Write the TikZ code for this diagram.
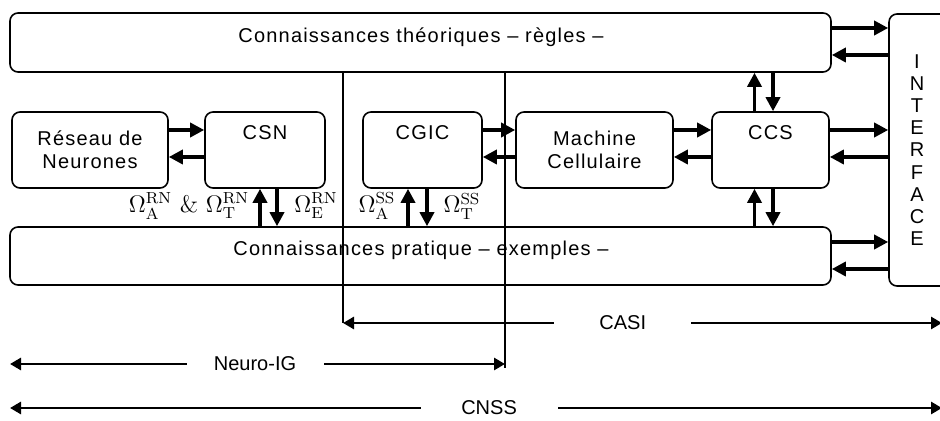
\documentclass[tikz,border=0pt]{standalone}
\usepackage{amsmath}
\usepackage{fontspec}
\usepackage{tikz}
\usetikzlibrary{arrows.meta, positioning, calc}
\newfontfamily\boxfont[LetterSpace=6]{Liberation Sans}
\newfontfamily\spanfont{Liberation Sans}
\tikzset{
  panel/.style={draw, line width=0.8pt, rounded corners=4pt, fill=white, inner sep=0pt},
  boxtxt/.style={font=\boxfont\fontsize{10}{11.5}\selectfont, align=center, inner sep=0pt},
  flow/.style={line width=1.7pt, -{Triangle[length=7pt, width=7pt]}},
  span/.style={line width=1.4pt, {Triangle[length=5.5pt, width=6pt]}-{Triangle[length=5.5pt, width=6pt]}},
  gap/.style={font=\spanfont\fontsize{10}{12}\selectfont, fill=white, inner sep=0pt, minimum height=8pt, minimum width=68.5pt},
  sep/.style={line width=0.6pt},
  omega/.style={font=\fontsize{12}{14}\selectfont, inner sep=0pt}
}
\begin{document}
\begin{tikzpicture}[x=0.5pt, y=-0.5pt]
  \clip (0,0) rectangle (940,421);
  % couches de connaissances
  \node[panel, minimum width=410.5pt, minimum height=29.5pt] (theo) at (420.5,42.5) {};
  \node[boxtxt] (theot) at (421,37) {Connaissances théoriques – règles –};
  \node[panel, minimum width=410.5pt, minimum height=29pt] (prat) at (420.5,256) {};
  \node[boxtxt] (pratt) at (421,250) {Connaissances pratique – exemples –};
  \node[panel, minimum width=40.5pt, minimum height=136pt] (iface) at (929.5,150) {};
  \node[boxtxt, font=\boxfont\fontsize{10}{11.1}\selectfont] (ifacet) at (917,150) {I\\N\\T\\E\\R\\F\\A\\C\\E};
  % modules
  \node[panel, boxtxt, minimum width=78pt, minimum height=38pt] (reseau) at (90,150) {Réseau de\\Neurones};
  \node[panel, minimum width=60pt, minimum height=38pt] (csn) at (265,150) {};
  \node[boxtxt] (csnt) at (265,133) {CSN};
  \node[panel, minimum width=59.5pt, minimum height=38pt] (cgic) at (422.5,150) {};
  \node[boxtxt] (cgict) at (422.5,133) {CGIC};
  \node[panel, boxtxt, minimum width=78.5pt, minimum height=38pt] (machine) at (594.5,150) {Machine\\Cellulaire};
  \node[panel, minimum width=58.5pt, minimum height=38pt] (ccs) at (770.5,150) {};
  \node[boxtxt] (ccst) at (770.5,133) {CCS};
  % echanges horizontaux
  \draw[flow] ([yshift=10pt]reseau.east) -- ([yshift=10pt]csn.west);
  \draw[flow] ([yshift=-3.5pt]csn.west) -- ([yshift=-3.5pt]reseau.east);
  \draw[flow] ([yshift=10pt]cgic.east) -- ([yshift=10pt]machine.west);
  \draw[flow] ([yshift=-3.5pt]machine.west) -- ([yshift=-3.5pt]cgic.east);
  \draw[flow] ([yshift=10pt]machine.east) -- ([yshift=10pt]ccs.west);
  \draw[flow] ([yshift=-3.5pt]ccs.west) -- ([yshift=-3.5pt]machine.east);
  \draw[flow] ([yshift=10pt]ccs.east) -- ([yshift=10pt]iface.west);
  \draw[flow] ([yshift=-3.5pt]iface.west) -- ([yshift=-3.5pt]ccs.east);
  \draw[flow] ([yshift=7.25pt]theo.east) -- ([yshift=61pt]iface.west);
  \draw[flow] ([yshift=47.5pt]iface.west) -- ([yshift=-6.25pt]theo.east);
  \draw[flow] ([yshift=7pt]prat.east) -- ([yshift=-46pt]iface.west);
  \draw[flow] ([yshift=-59.5pt]iface.west) -- ([yshift=-6.5pt]prat.east);
  % echanges verticaux
  \draw[flow] ([xshift=-8pt]ccs.north) -- ($(ccs.north |- theo.south)+(-8pt,0pt)$);
  \draw[flow] ($(ccs.north |- theo.south)+(1.25pt,0pt)$) -- ([xshift=1.25pt]ccs.north);
  \draw[flow] ($(ccs.south |- prat.north)+(-8pt,0pt)$) -- ([xshift=-8pt]ccs.south);
  \draw[flow] ([xshift=1.25pt]ccs.south) -- ($(ccs.south |- prat.north)+(1.25pt,0pt)$);
  \draw[flow] ($(csn.south |- prat.north)+(-2.5pt,0pt)$) -- ([xshift=-2.5pt]csn.south);
  \draw[flow] ([xshift=6pt]csn.south) -- ($(csn.south |- prat.north)+(6pt,0pt)$);
  \draw[flow] ($(cgic.south |- prat.north)+(-7.25pt,0pt)$) -- ([xshift=-7.25pt]cgic.south);
  \draw[flow] ([xshift=2.25pt]cgic.south) -- ($(cgic.south |- prat.north)+(2.25pt,0pt)$);
  % ensembles
  \node[omega] (omrn) at (189,206) {$\Omega^{\mathrm{RN}}_{\mathrm{A}}$ \& $\Omega^{\mathrm{RN}}_{\mathrm{T}}$};
  \node[omega] (omern) at (316,206) {$\Omega^{\mathrm{RN}}_{\mathrm{E}}$};
  \node[omega] (omass) at (377,206) {$\Omega^{\mathrm{SS}}_{\mathrm{A}}$};
  \node[omega] (omtss) at (462,206) {$\Omega^{\mathrm{SS}}_{\mathrm{T}}$};
  % separations et portees
  \coordinate (casiL) at (343,323);
  \coordinate (casiR) at (942,323);
  \coordinate (neuroL) at (10,364);
  \coordinate (neuroR) at (505,364);
  \coordinate (cnssL) at (10,408);
  \coordinate (cnssR) at (942,408);
  \draw[sep] (theo.south -| casiL) -- (casiL);
  \draw[sep] (theo.south -| neuroR) -- ([yshift=-2pt]neuroR);
  \draw[span] (casiL) -- node[gap, pos=0.467] (casit) {CASI} (casiR);
  \draw[span] (neuroL) -- node[gap, pos=0.495] (neurot) {Neuro-IG} (neuroR);
  \draw[span] (cnssL) -- node[gap, pos=0.514] (cnsst) {CNSS} (cnssR);
\end{tikzpicture}
\end{document}
